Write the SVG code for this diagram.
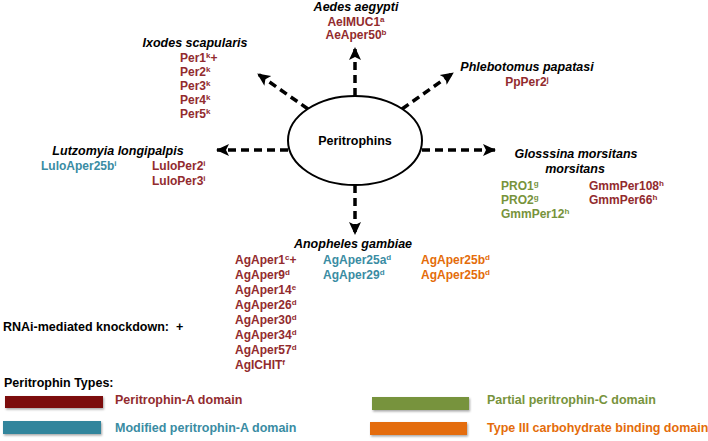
<svg xmlns="http://www.w3.org/2000/svg" width="708" height="441" viewBox="0 0 708 441">
<defs>
<marker id="ah" markerUnits="userSpaceOnUse" markerWidth="14" markerHeight="14" viewBox="0 0 14 14" refX="12" refY="7" orient="auto">
<path d="M0,1 L13,7 L0,13 L3,7 Z" fill="#000"/>
</marker>
<filter id="sh" x="-10%" y="-30%" width="120%" height="170%">
<feDropShadow dx="1" dy="1.5" stdDeviation="1" flood-color="#000" flood-opacity="0.35"/>
</filter>
</defs>
<style>
text{font-family:"Liberation Sans",Arial,sans-serif;font-weight:bold;font-size:12px}
.sp{font-style:italic;font-size:12.5px;fill:#000}
.r{fill:#922B2E}
.t{fill:#3A8CA3}
.g{fill:#77933C}
.o{fill:#E46C0A}
.k{fill:#000}
.lg{font-size:12.5px}
.sup{font-size:8px}
.conn{stroke:#000;stroke-width:3.5;stroke-dasharray:8 5;fill:none}
</style>
<rect width="708" height="441" fill="#fff"/>

<g id="connectors">
<line class="conn" x1="355" y1="96" x2="355" y2="48" marker-end="url(#ah)"/>
<line class="conn" x1="308" y1="109" x2="258" y2="74" marker-end="url(#ah)"/>
<line class="conn" x1="402" y1="109" x2="453" y2="73" marker-end="url(#ah)"/>
<line class="conn" x1="288" y1="150" x2="217" y2="150" marker-end="url(#ah)"/>
<line class="conn" x1="422" y1="150" x2="495" y2="150" marker-end="url(#ah)"/>
<line class="conn" x1="355" y1="185" x2="355" y2="234" marker-end="url(#ah)"/>
</g>

<g id="peritrophins">
<ellipse cx="355" cy="140.5" rx="67" ry="44.5" fill="#fff" stroke="#000" stroke-width="2"/>
<text class="k lg" x="355" y="145" text-anchor="middle">Peritrophins</text>
</g>

<g id="aedes">
<text class="sp" x="356" y="11" text-anchor="middle">Aedes aegypti</text>
<text class="r" x="356" y="26" text-anchor="middle">AeIMUC1<tspan class="sup" dy="-4">a</tspan></text>
<text class="r" x="356" y="39" text-anchor="middle">AeAper50<tspan class="sup" dy="-4">b</tspan></text>
</g>

<g id="ixodes">
<text class="sp" x="195" y="47" text-anchor="middle">Ixodes scapularis</text>
<text class="r" x="180" y="62">Per1<tspan class="sup" dy="-4">k</tspan><tspan dy="4">+</tspan></text>
<text class="r" x="180" y="76">Per2<tspan class="sup" dy="-4">k</tspan></text>
<text class="r" x="180" y="90">Per3<tspan class="sup" dy="-4">k</tspan></text>
<text class="r" x="180" y="104">Per4<tspan class="sup" dy="-4">k</tspan></text>
<text class="r" x="180" y="118">Per5<tspan class="sup" dy="-4">k</tspan></text>
</g>

<g id="phlebotomus">
<text class="sp" x="527" y="71" text-anchor="middle">Phlebotomus papatasi</text>
<text class="r" x="527" y="86" text-anchor="middle">PpPer2<tspan class="sup" dy="-4">j</tspan></text>
</g>

<g id="lutzomyia">
<text class="sp" x="118" y="155" text-anchor="middle">Lutzomyia longipalpis</text>
<text class="t" x="41" y="170">LuloAper25b<tspan class="sup" dy="-4">i</tspan></text>
<text class="r" x="152" y="170">LuloPer2<tspan class="sup" dy="-4">i</tspan></text>
<text class="r" x="152" y="185">LuloPer3<tspan class="sup" dy="-4">i</tspan></text>
</g>

<g id="glossina">
<text class="sp" x="576" y="158" text-anchor="middle">Glosssina morsitans</text>
<text class="sp" x="575" y="173" text-anchor="middle">morsitans</text>
<text class="g" x="501" y="190">PRO1<tspan class="sup" dy="-4">g</tspan></text>
<text class="g" x="501" y="204">PRO2<tspan class="sup" dy="-4">g</tspan></text>
<text class="g" x="501" y="218">GmmPer12<tspan class="sup" dy="-4">h</tspan></text>
<text class="r" x="589" y="190">GmmPer108<tspan class="sup" dy="-4">h</tspan></text>
<text class="r" x="589" y="204">GmmPer66<tspan class="sup" dy="-4">h</tspan></text>
</g>

<g id="anopheles">
<text class="sp" x="353" y="248" text-anchor="middle">Anopheles gambiae</text>
<text class="r" x="235" y="264">AgAper1<tspan class="sup" dy="-4">c</tspan><tspan dy="4">+</tspan></text>
<text class="r" x="235" y="279">AgAper9<tspan class="sup" dy="-4">d</tspan></text>
<text class="r" x="235" y="294">AgAper14<tspan class="sup" dy="-4">e</tspan></text>
<text class="r" x="235" y="309">AgAper26<tspan class="sup" dy="-4">d</tspan></text>
<text class="r" x="235" y="324">AgAper30<tspan class="sup" dy="-4">d</tspan></text>
<text class="r" x="235" y="339">AgAper34<tspan class="sup" dy="-4">d</tspan></text>
<text class="r" x="235" y="354">AgAper57<tspan class="sup" dy="-4">d</tspan></text>
<text class="r" x="235" y="369">AgICHIT<tspan class="sup" dy="-4">f</tspan></text>
<text class="t" x="323" y="264">AgAper25a<tspan class="sup" dy="-4">d</tspan></text>
<text class="t" x="323" y="279">AgAper29<tspan class="sup" dy="-4">d</tspan></text>
<text class="o" x="421" y="264">AgAper25b<tspan class="sup" dy="-4">d</tspan></text>
<text class="o" x="421" y="279">AgAper25b<tspan class="sup" dy="-4">d</tspan></text>
</g>

<g id="rnai">
<text class="k lg" x="3" y="331" xml:space="preserve">RNAi-mediated knockdown:  +</text>
</g>

<g id="legend">
<text class="k lg" x="4" y="387">Peritrophin Types:</text>
<rect x="5" y="396" width="98" height="12" fill="#7B0A0A" filter="url(#sh)"/>
<text class="r lg" x="115" y="404">Peritrophin-A domain</text>
<rect x="3" y="421" width="98" height="13" fill="#31859C" filter="url(#sh)"/>
<text class="t lg" x="115" y="432">Modified peritrophin-A domain</text>
<rect x="372" y="397" width="97" height="13" fill="#77933C" filter="url(#sh)"/>
<text class="g lg" x="487" y="404">Partial peritrophin-C domain</text>
<rect x="370" y="422" width="97" height="13" fill="#E46C0A" filter="url(#sh)"/>
<text class="o lg" x="487" y="432">Type III carbohydrate binding domain</text>
</g>
</svg>
